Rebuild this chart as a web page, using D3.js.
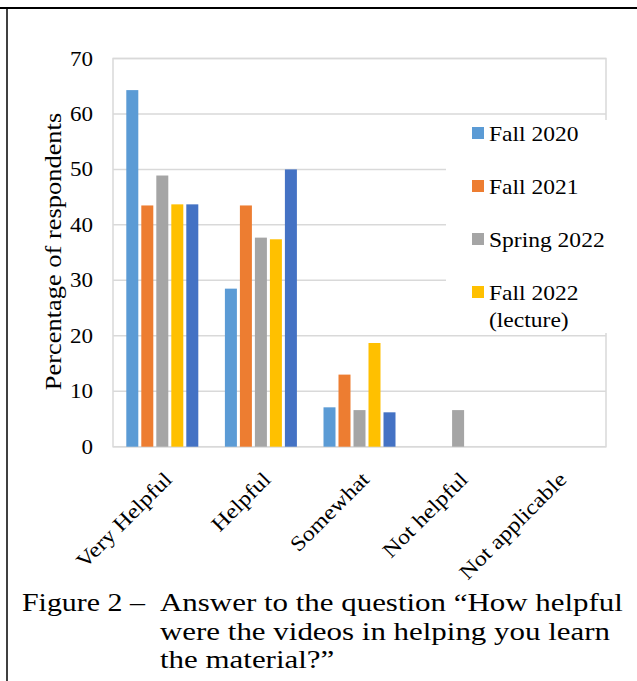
<!DOCTYPE html>
<html>
<head>
<meta charset="utf-8">
<script src="https://cdn.jsdelivr.net/npm/d3@7"></script>
<style>
  body { margin: 0; background: #fff; }
  svg { display: block; font-family: "Liberation Serif", "Times New Roman", serif; }
</style>
</head>
<body>
<svg id="chart" width="637" height="681"></svg>
<script>
// categories and series values (percentage of respondents)
const categories = ["Very Helpful", "Helpful", "Somewhat", "Not helpful", "Not applicable"]
const seriesNames = ["Fall 2020", "Fall 2021", "Spring 2022", "Fall 2022 (lecture)", "Fall 2022 (online)"]
const fall2020 = [64.3, 28.5, 7.1, 0, 0]
const fall2021 = [43.5, 43.5, 13.0, 0, 0]
const spring2022 = [48.9, 37.7, 6.6, 6.6, 0]
const fall2022Lecture = [43.7, 37.4, 18.7, 0, 0]
const fall2022Other = [43.7, 50.0, 6.2, 0, 0]
const yTicks = [0, 10, 20, 30, 40, 50, 60, 70]
const legendItems = [["Fall 2020"], ["Fall 2021"], ["Spring 2022"], ["Fall 2022", "(lecture)"]]
const captionLines = ["Answer to the question \u201cHow helpful", "were the videos in helping you learn", "the material?\u201d"]

const colors = ["#5B9BD5", "#ED7D31", "#A5A5A5", "#FFC000", "#4472C4"]
const allSeries = [fall2020, fall2021, spring2022, fall2022Lecture, fall2022Other]

// the reference text is a bit wider than Liberation Serif, so stretch along the text
const STRETCH = 1.15

const svg = d3.select("#chart")

// page frame lines
svg.append("line").attr("x1", 0).attr("x2", 637).attr("y1", 8).attr("y2", 8)
    .attr("stroke", "#000").attr("stroke-width", 2)
svg.append("line").attr("x1", 7).attr("x2", 7).attr("y1", 8).attr("y2", 681)
    .attr("stroke", "#000").attr("stroke-width", 1.5)

const plot = { left: 113, right: 606, top: 58.5, bottom: 446.7 }

const x = d3.scaleBand().domain(categories).range([plot.left, plot.right])
const y = d3.scaleLinear().domain([0, 70]).range([plot.bottom, plot.top])
const barW = 12, barGap = 3
const groupW = allSeries.length * barW + (allSeries.length - 1) * barGap

// gridlines
svg.append("g").selectAll("line")
    .data(yTicks)
    .enter()
    .append("line")
    .attr("x1", plot.left).attr("x2", plot.right)
    .attr("y1", d => y(d)).attr("y2", d => y(d))
    .attr("stroke", "#D9D9D9").attr("stroke-width", 1.5)

// plot border
svg.append("rect")
    .attr("x", plot.left).attr("y", plot.top)
    .attr("width", plot.right - plot.left).attr("height", plot.bottom - plot.top)
    .attr("fill", "none").attr("stroke", "#D9D9D9").attr("stroke-width", 1.5)

// bars
allSeries.forEach((vals, si) => {
    svg.append("g").selectAll("rect")
        .data(vals.map((v, i) => ({ cat: categories[i], v: v })))
        .enter()
        .append("rect")
        .attr("x", d => x(d.cat) + x.bandwidth() / 2 - groupW / 2 + si * (barW + barGap))
        .attr("width", barW)
        .attr("y", d => y(d.v))
        .attr("height", d => y(0) - y(d.v))
        .attr("fill", colors[si])
})

// y tick labels
svg.append("g").selectAll("text")
    .data(yTicks)
    .enter()
    .append("text")
    .attr("transform", d => "translate(93," + y(d) + ") scale(" + STRETCH + ",1)")
    .attr("dy", "0.35em")
    .attr("text-anchor", "end")
    .attr("font-size", 20)
    .text(d => d)

// y axis title
svg.append("text")
    .attr("transform", "translate(61,251.5) rotate(-90) scale(" + STRETCH + ",1)")
    .attr("text-anchor", "middle")
    .attr("font-size", 23)
    .text("Percentage of respondents")

// x category labels
svg.append("g").selectAll("text")
    .data(categories)
    .enter()
    .append("text")
    .attr("transform", d => "translate(" + (x(d) + x.bandwidth() / 2 + 11) + "," + (plot.bottom + 34) + ") rotate(-45) scale(" + STRETCH + ",1)")
    .attr("text-anchor", "end")
    .attr("font-size", 21)
    .text(d => d)

// legend (white box covering part of plot, as in the original)
const legend = svg.append("g")
legend.append("rect")
    .attr("x", 446).attr("y", 120).attr("width", 164).attr("height", 213)
    .attr("fill", "#fff")
legendItems.forEach((lines, i) => {
    const base = 141 + i * 53
    legend.append("rect")
        .attr("x", 472).attr("y", base - 14).attr("width", 12).attr("height", 12)
        .attr("fill", colors[i])
    lines.forEach((t, j) => {
        legend.append("text")
            .attr("transform", "translate(489," + (base + j * 27) + ") scale(1.07,1)")
            .attr("font-size", 22)
            .text(t)
    })
})

// caption
svg.append("text")
    .attr("transform", "translate(22,611) scale(1.15,1)")
    .attr("font-size", 26)
    .text("Figure 2 \u2013")
svg.append("g").selectAll("text")
    .data(captionLines)
    .enter()
    .append("text")
    .attr("transform", (d, i) => "translate(160," + (611 + i * 28.5) + ") scale(1.19,1)")
    .attr("font-size", 26)
    .text(d => d)
</script>
</body>
</html>
